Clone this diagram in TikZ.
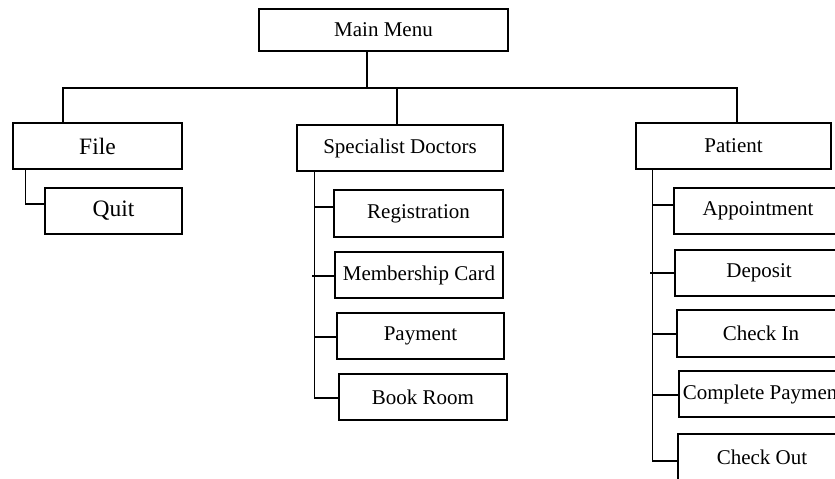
\documentclass[tikz,border=0pt]{standalone}
\usepackage{fontspec}
\setmainfont{Liberation Serif}
\begin{document}
\begin{tikzpicture}[x=1pt,y=-1pt,
  box/.style={draw=black,line width=1.5pt,rectangle,inner sep=0pt,
    minimum height=46pt,font=\fontsize{21}{25}\selectfont},
  bigbox/.style={box,font=\fontsize{23.5}{28}\selectfont},
  link/.style={draw=black,line width=1.2pt}]
\path[use as bounding box,clip] (0,0) rectangle (835,479);
\fill[white] (0,0) rectangle (835,479);
% nodes
\node[box,minimum width=249pt,minimum height=42pt] (main) at (383.5,30) {Main Menu};
\node[bigbox,minimum width=169pt] (file) at (97.5,146) {File};
\node[bigbox,minimum width=137pt] (quit) at (113.5,211) {Quit};
\node[box,minimum width=206pt] (spec) at (400,148) {Specialist Doctors};
\node[box,minimum width=169pt,minimum height=47pt] (reg) at (418.5,213.5) {Registration};
\node[box,minimum width=168pt] (mem) at (419,275) {Membership Card};
\node[box,minimum width=167pt] (pay) at (420.5,336) {Payment};
\node[box,minimum width=168pt] (book) at (423,397) {Book Room};
\node[box,minimum width=195pt] (pat) at (733.5,146) {Patient};
\node[box,minimum width=168pt] (appt) at (758,211) {Appointment};
\node[box,minimum width=168pt] (dep) at (759,273) {Deposit};
\node[box,minimum width=168pt,minimum height=47pt] (chin) at (761,333.5) {Check In};
\node[box,minimum width=168pt] (cpay) at (763,394) {Complete Payment};
\node[box,minimum width=168pt] (cout) at (762,457) {Check Out};
% bus
\coordinate (busL) at (63,88);
\coordinate (busR) at (737,88);
\coordinate (busS) at (397,88);
\coordinate (mm) at ([xshift=-16.5pt]main.south);
\draw[link] (file.north -| busL) -- (busL) -- (busR) -- (pat.north -| busR);
\draw[link] (mm) -- (mm |- busL);
\draw[link] (busS) -- (spec.north -| busS);
% file - quit
\coordinate (fq) at ([xshift=13pt]file.south west);
\coordinate (qc) at ([yshift=7pt]quit.west);
\draw[link] (fq) |- (qc);
% specialist doctors
\coordinate (sx) at ([xshift=18pt]spec.south west);
\coordinate (regc) at ([yshift=6.5pt]reg.west);
\coordinate (memc) at ([yshift=-1pt]mem.west);
\coordinate (payc) at ([yshift=-1pt]pay.west);
\coordinate (bookc) at ([yshift=-1pt]book.west);
\draw[link] (sx) |- (bookc);
\draw[link] (sx |- regc) -- (regc);
\draw[link] ([xshift=-2pt]sx |- memc) -- (memc);
\draw[link] (sx |- payc) -- (payc);
% patient
\coordinate (px) at ([xshift=17pt]pat.south west);
\coordinate (apptc) at ([yshift=6pt]appt.west);
\coordinate (depc) at (dep.west);
\coordinate (chinc) at ([yshift=-0.5pt]chin.west);
\coordinate (cpayc) at ([yshift=-1pt]cpay.west);
\coordinate (coutc) at ([yshift=-4pt]cout.west);
\draw[link] (px) |- (coutc);
\draw[link] (px |- apptc) -- (apptc);
\draw[link] ([xshift=-2pt]px |- depc) -- (depc);
\draw[link] (px |- chinc) -- (chinc);
\draw[link] (px |- cpayc) -- (cpayc);
\end{tikzpicture}
\end{document}
